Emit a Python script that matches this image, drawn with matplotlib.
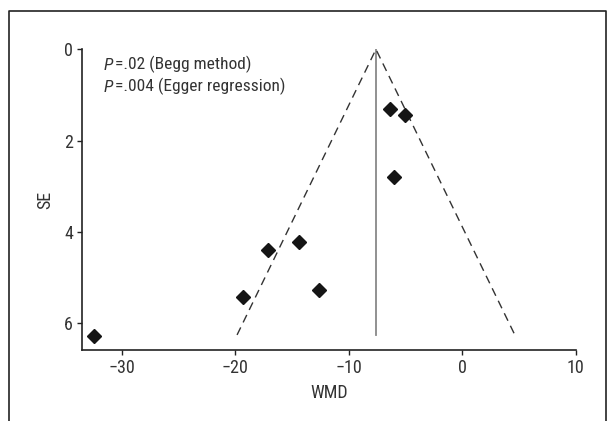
import matplotlib
matplotlib.use("Agg")
import matplotlib.pyplot as plt
from matplotlib.lines import Line2D
from matplotlib import font_manager as fm

avail = {f.name for f in fm.fontManager.ttflist}
fam = [f for f in ['Roboto Condensed', 'Archivo Narrow', 'PT Sans Narrow', 'Liberation Sans'] if f in avail][:1]
plt.rcParams['font.family'] = fam + ['DejaVu Sans']

# Data
wmd = [-6.4, -5.0, -6.0, -17.1, -14.4, -19.3, -12.6, -32.5]
se = [1.31, 1.44, 2.79, 4.39, 4.22, 5.42, 5.27, 6.27]
pooled = -7.6
se_max = 6.25
xticks = [-30, -20, -10, 0, 10]
yticks = [0, 2, 4, 6]
annot_p = "P"
annot_rest = ["=.02 (Begg method)", "=.004 (Egger regression)"]

fig = plt.figure(figsize=(6.11, 4.21), dpi=100)
ax = fig.add_axes([82.3/611, 1-350/421, (575.5-82.3)/611, (350-49.3)/421])

# funnel
ax.plot([pooled, pooled], [0, se_max], color='#888888', lw=1.3)
ax.plot([pooled - 1.96*se_max, pooled, pooled + 1.96*se_max], [se_max, 0, se_max],
        color='#333333', lw=1.0, dashes=(6, 4))
ax.plot(wmd, se, linestyle='none', marker='D', color='#151515', markersize=7)

ax.set_xlim(-33.5, 10)
ax.set_ylim(6.58, 0)
ax.set_xticks(xticks)
ax.set_yticks(yticks)
ax.spines['top'].set_visible(False)
ax.spines['right'].set_visible(False)
for s in ['left', 'bottom']:
    ax.spines[s].set_linewidth(1.2)
    ax.spines[s].set_color('#222222')
ax.tick_params(axis='both', direction='out', length=3.6, width=1.0, colors='#222222',
               labelsize=13, labelcolor='#333333', pad=3)
ax.set_xlabel('WMD', fontsize=13, color='#333333', labelpad=5)
ax.set_ylabel('SE', fontsize=13, color='#333333', labelpad=7)

for yv, rest in zip([0.36, 0.84], annot_rest):
    p = ax.text(-31.6, yv, annot_p, fontsize=12.5, color='#333333', va='center', style='italic')
    ax.annotate(rest, xy=(1, 0), xycoords=p, xytext=(1, 0), textcoords='offset points',
                fontsize=12.5, color='#333333', va='bottom')

# figure frame (open at bottom)
fx0, fx1, fy = 9/611, 606/611, 1-11/421
fig.add_artist(Line2D([fx0, fx0, fx1, fx1], [0, fy, fy, 0], transform=fig.transFigure,
                      color='#222222', lw=1.2))

fig.savefig('out.png', dpi=100)
